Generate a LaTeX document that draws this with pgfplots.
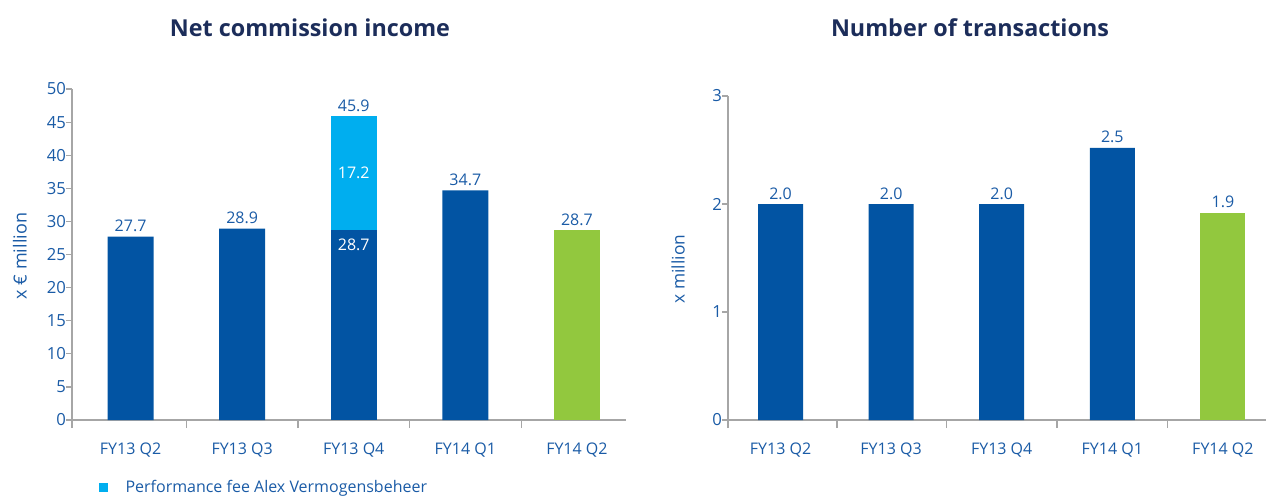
\documentclass[border=0pt]{standalone}
\usepackage{pgfplots}
\pgfplotsset{compat=1.18}
\usepackage{fontspec}
\setmainfont{Open Sans}
\definecolor{dblue}{HTML}{0254A3}
\definecolor{lblue}{HTML}{00AEEF}
\definecolor{bgreen}{HTML}{92C83E}
\definecolor{txt}{HTML}{1A5BA6}
\definecolor{ttl}{HTML}{1C2D5A}
\definecolor{axgray}{HTML}{A6A6A6}
\pgfplotsset{
  mystyle/.style={
    scale only axis,
    axis lines*=left,
    axis line style={axgray, line width=0.9pt, -},
    enlargelimits=false,
    ymin=0,
    xtick={0,...,4},
    xticklabels={FY13 Q2, FY13 Q3, FY13 Q4, FY14 Q1, FY14 Q2},
    major x tick style={draw=none},
    minor tick length=6pt, major tick length=4.5pt,
    tick align=outside,
    tick style={axgray, line width=0.9pt},
    ticklabel style={text=txt},
    xticklabel style={font=\fontsize{12}{14}\selectfont, yshift=-9pt},
    yticklabel style={font=\fontsize{12.5}{15}\selectfont, xshift=3.5pt},
    /pgf/number format/assume math mode=true,
    ybar, bar shift=0pt,
    nodes near coords={\pgfmathprintnumber[fixed,fixed zerofill,precision=1,assume math mode=true]{\pgfplotspointmeta}},
    nodes near coords style={text=txt, font=\fontsize{12}{14}\selectfont},
  }
}
\begin{document}
\begin{tikzpicture}
\useasboundingbox (0,0) rectangle (949.5pt,372.75pt);
% titles
\node[font=\fontsize{17.5}{20}\selectfont\bfseries, text=ttl] at (232.5pt,351.75pt) {Net commission income};
\node[font=\fontsize{17.5}{20}\selectfont\bfseries, text=ttl] at (727.5pt,351.75pt) {Number of transactions};
% y labels
\node[rotate=90, font=\fontsize{13.5}{16}\selectfont, text=txt] at (15pt,180.75pt) {x € million};
\node[rotate=90, font=\fontsize{13}{16}\selectfont, text=txt] at (508.5pt,171pt) {x million};

\begin{axis}[mystyle,
  at={(54pt,57.75pt)}, anchor=south west,
  width=415.5pt, height=248.25pt,
  xmin=-0.525, xmax=4.44,
  ymax=50, ytick={0,5,...,50},
  minor xtick={-0.525,0.5,1.5,2.5,3.5},
  bar width=34.5pt,
  legend style={at={(axis description cs:0.048,-0.205)}, anchor=west, draw=none, fill=none,
    font=\fontsize{12}{14}\selectfont, text=txt, inner sep=0pt},
  legend image code/.code={\fill[lblue] (0pt,-3.4pt) rectangle (6.8pt,3.4pt); \path[draw=none,fill=none] (0pt,0pt) -- (18pt,0pt);},
]
\addplot[fill=lblue, draw=none, nodes near coords style={anchor=south}] coordinates {(2,45.9)};
\addlegendentry{Performance fee Alex Vermogensbeheer}
\addplot[fill=dblue, draw=none] coordinates {(0,27.7) (1,28.9) (3,34.7)};
\addplot[fill=dblue, draw=none, nodes near coords style={text=white, anchor=north, yshift=-3pt}] coordinates {(2,28.7)};
\addplot[fill=bgreen, draw=none] coordinates {(4,28.7)};
\node[text=white, font=\fontsize{12}{14}\selectfont] at (axis cs:2,37.4) {17.2};
\end{axis}

\begin{axis}[mystyle,
  at={(546pt,57.75pt)}, anchor=south west,
  width=403.5pt, height=243pt,
  xmin=-0.475, xmax=4.39,
  ymax=3, ytick={0,1,2,3},
  minor xtick={-0.475,0.51,1.5,2.5,3.5},
  bar width=33.75pt,
]
\addplot[fill=dblue, draw=none] coordinates {(0,2.0) (1,2.0) (2,2.0) (3,2.52)};
\addplot[fill=bgreen, draw=none] coordinates {(4,1.92)};
\end{axis}
\end{tikzpicture}
\end{document}
